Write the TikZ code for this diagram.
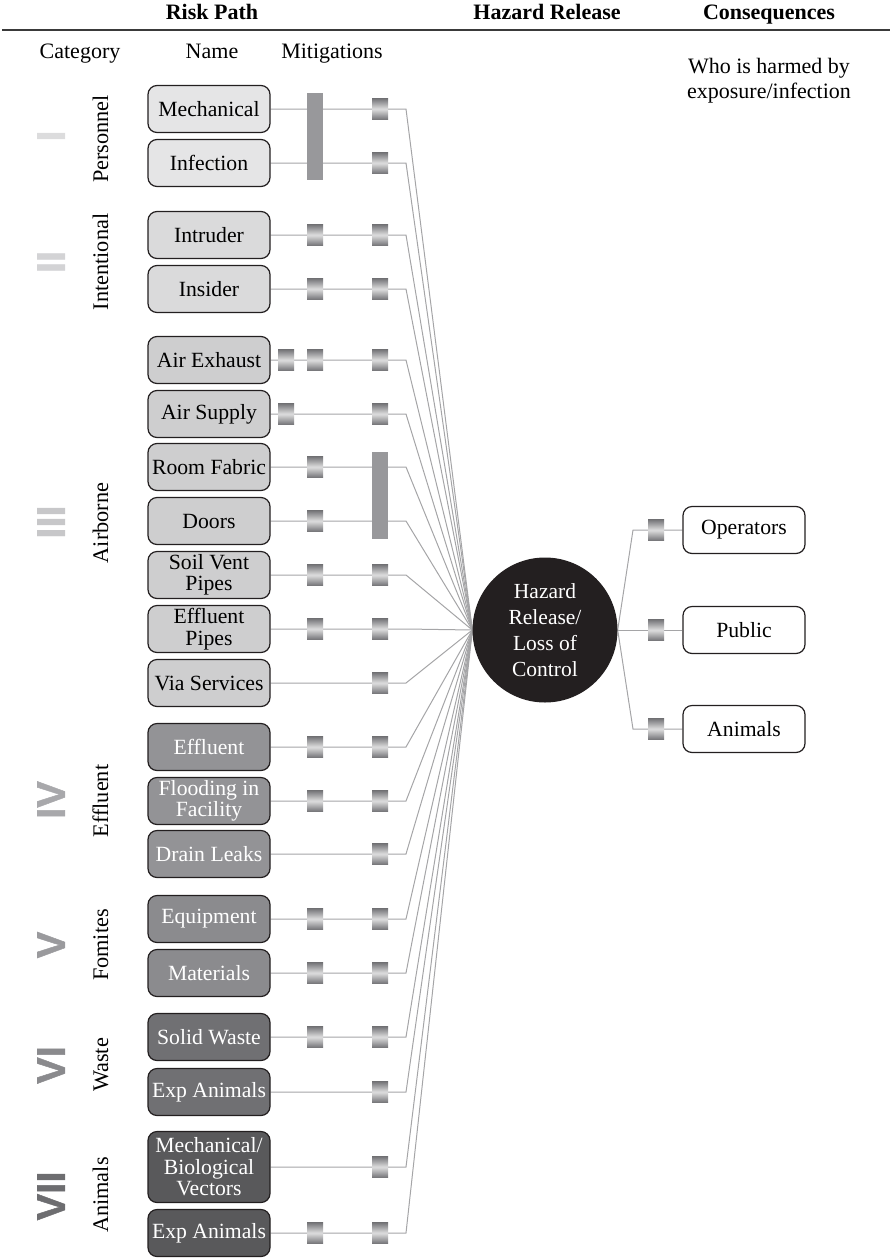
\documentclass[tikz,border=0pt]{standalone}
\usepackage{fontspec}
\setmainfont{Liberation Serif}
\newfontfamily\numfont[FakeBold=1.2]{Liberation Sans Bold}
\usetikzlibrary{backgrounds}

\definecolor{ink}{HTML}{231F20}
\definecolor{wire}{HTML}{A5A5A7}
\definecolor{rulegray}{HTML}{3A3A3A}
\definecolor{fillI}{HTML}{E5E5E6}
\definecolor{fillII}{HTML}{DADADB}
\definecolor{fillIII}{HTML}{CECECF}
\definecolor{fillIV}{HTML}{939396}
\definecolor{fillV}{HTML}{8B8B8E}
\definecolor{fillVI}{HTML}{707073}
\definecolor{fillVII}{HTML}{59595B}
\definecolor{numI}{HTML}{DCDCDD}
\definecolor{numII}{HTML}{D3D3D5}
\definecolor{numIII}{HTML}{C7C7C9}
\definecolor{numIV}{HTML}{A8A8AB}
\definecolor{numV}{HTML}{9A9A9D}
\definecolor{numVI}{HTML}{8A8A8D}
\definecolor{numVII}{HTML}{6D6D70}
\definecolor{mdark}{HTML}{747477}
\definecolor{mlight}{HTML}{DEDEDF}
\definecolor{barfill}{HTML}{98989B}

\tikzset{
  riskbox/.style={draw=ink, line width=1.2pt, rounded corners=9pt,
    minimum width=122pt, minimum height=47pt, inner sep=1pt, align=center,
    font=\fontsize{21.7}{21.5}\selectfont},
  darkbox/.style={riskbox, text=white},
  mitig/.style={rectangle, minimum width=16pt, minimum height=21pt, inner sep=0pt,
    top color=mdark, bottom color=mdark, middle color=mlight},
  mbar/.style={rectangle, fill=barfill, minimum width=16pt, inner sep=0pt},
  wireline/.style={draw=wire, line width=1pt},
  numeral/.style={rotate=90, inner sep=0pt, font=\numfont\fontsize{40}{40}\selectfont},
  catlabel/.style={rotate=90, anchor=base, inner sep=0pt, font=\fontsize{22.3}{22}\selectfont},
  headtext/.style={anchor=base, inner sep=0pt, font=\bfseries\fontsize{22}{22}\selectfont},
  coltext/.style={anchor=base, inner sep=0pt, font=\fontsize{22}{22}\selectfont},
}

\begin{document}
\begin{tikzpicture}[x=1pt,y=-1pt]
\useasboundingbox (0,0) rectangle (890,1259);

% headings and rule
\node[headtext] (hRisk) at (212,19) {Risk Path};
\node[headtext] (hHaz) at (547,19) {Hazard Release};
\node[headtext] (hCons) at (769,19) {Consequences};
\coordinate (ruleL) at (2,30);
\coordinate (ruleR) at (890,30);
\draw[rulegray, line width=1.3pt] (ruleL) -- (ruleR);

\node[coltext] (hCat) at (80,58) {Category};
\node[coltext] (hName) at (212,58) {Name};
\node[coltext] (hMit) at (332,58) {Mitigations};
\node[inner sep=0pt, align=center, font=\fontsize{22}{25}\selectfont] (hWho) at (769,80.5)
  {Who is harmed by\\exposure/infection};

% category numerals
\node[numeral, text=numI]   (nI)   at (51,136)  {I};
\node[numeral, text=numII]  (nII)  at (51,262)  {II};
\node[numeral, text=numIII] (nIII) at (51,522)  {III};
\node[numeral, text=numIV]  (nIV)  at (51,800)  {IV};
\node[numeral, text=numV]   (nV)   at (51,945)  {V};
\node[numeral, text=numVI]  (nVI)  at (51,1065) {VI};
\node[numeral, text=numVII] (nVII) at (51,1196) {VII};

% category names
\node[catlabel] (kI)   at (108,139)  {Personnel};
\node[catlabel] (kII)  at (108,262)  {Intentional};
\node[catlabel] (kIII) at (108,523)  {Airborne};
\node[catlabel] (kIV)  at (108,801)  {Effluent};
\node[catlabel] (kV)   at (108,945)  {Fomites};
\node[catlabel] (kVI)  at (108,1065) {Waste};
\node[catlabel] (kVII) at (108,1195) {Animals};

% risk path boxes
\node[riskbox, fill=fillI]   (b1)  at (209,109)  {Mechanical};
\node[riskbox, fill=fillI]   (b2)  at (209,163)  {Infection};
\node[riskbox, fill=fillII]  (b3)  at (209,235)  {Intruder};
\node[riskbox, fill=fillII]  (b4)  at (209,289)  {Insider};
\node[riskbox, fill=fillIII] (b5)  at (209,360)  {Air Exhaust};
\node[riskbox, fill=fillIII] (b6)  at (209,414)  {Air Supply};
\node[riskbox, fill=fillIII] (b7)  at (209,467)  {Room Fabric};
\node[riskbox, fill=fillIII] (b8)  at (209,521)  {Doors};
\node[riskbox, fill=fillIII] (b9)  at (209,575)  {Soil Vent\\Pipes};
\node[riskbox, fill=fillIII] (b10) at (209,629)  {Effluent\\Pipes};
\node[riskbox, fill=fillIII] (b11) at (209,683)  {Via Services};
\node[darkbox, fill=fillIV]  (b12) at (209,747)  {Effluent};
\node[darkbox, fill=fillIV]  (b13) at (209,801)  {Flooding in\\Facility};
\node[darkbox, fill=fillIV]  (b14) at (209,854)  {Drain Leaks};
\node[darkbox, fill=fillV]   (b15) at (209,919)  {Equipment};
\node[darkbox, fill=fillV]   (b16) at (209,973)  {Materials};
\node[darkbox, fill=fillVI]  (b17) at (209,1037) {Solid Waste};
\node[darkbox, fill=fillVI]  (b18) at (209,1092) {Exp Animals};
\node[darkbox, fill=fillVII, minimum height=71pt] (b19) at (209,1167) {Mechanical/\\Biological\\Vectors};
\node[darkbox, fill=fillVII] (b20) at (209,1233) {Exp Animals};

% central hazard node
\node[circle, fill=ink, text=white, minimum size=145pt, inner sep=0pt, align=center,
  font=\fontsize{21.5}{26}\selectfont] (hz) at (545,630) {Hazard\\Release/\\Loss of\\Control};

% consequence boxes
\node[riskbox, fill=white] (cOp)  at (744,530) {Operators};
\node[riskbox, fill=white] (cPub) at (744,630) {Public};
\node[riskbox, fill=white] (cAn)  at (744,729) {Animals};

% mitigation columns and bend lines
\coordinate (colA) at (286,0);
\coordinate (colB) at (315,0);
\coordinate (colC) at (380,0);
\coordinate (bendL) at (406,0);
\coordinate (bendR) at (633,0);
\coordinate (colR) at (656,0);

% connectors behind everything
\begin{scope}[on background layer]
  \foreach \r in {b1,b2,b3,b4,b5,b6,b7,b8,b9,b10,b11,b12,b13,b14,b15,b16,b17,b18,b19,b20}
    \draw[wireline] (\r.east) -- (\r.east -| bendL) -- (hz.west);
  \draw[wireline] (hz.east) -- (cOp.west -| bendR) -- (cOp.west);
  \draw[wireline] (hz.east) -- (cPub.west);
  \draw[wireline] (hz.east) -- (cAn.west -| bendR) -- (cAn.west);
\end{scope}

% shared barriers
\node[mbar, minimum height=87pt] (barP) at (315,136.5) {};
\node[mbar, minimum height=87pt] (barR) at (380,495.5) {};

% individual barriers
\foreach \r in {b5,b6}
  \node[mitig] (\r A) at (\r -| colA) {};
\foreach \r in {b3,b4,b5,b7,b8,b9,b10,b12,b13,b15,b16,b17,b20}
  \node[mitig] (\r B) at (\r -| colB) {};
\foreach \r in {b1,b2,b3,b4,b5,b6,b9,b10,b11,b12,b13,b14,b15,b16,b17,b18,b19,b20}
  \node[mitig] (\r C) at (\r -| colC) {};
\foreach \c in {cOp,cPub,cAn}
  \node[mitig] (\c R) at (\c -| colR) {};
\end{tikzpicture}
\end{document}
